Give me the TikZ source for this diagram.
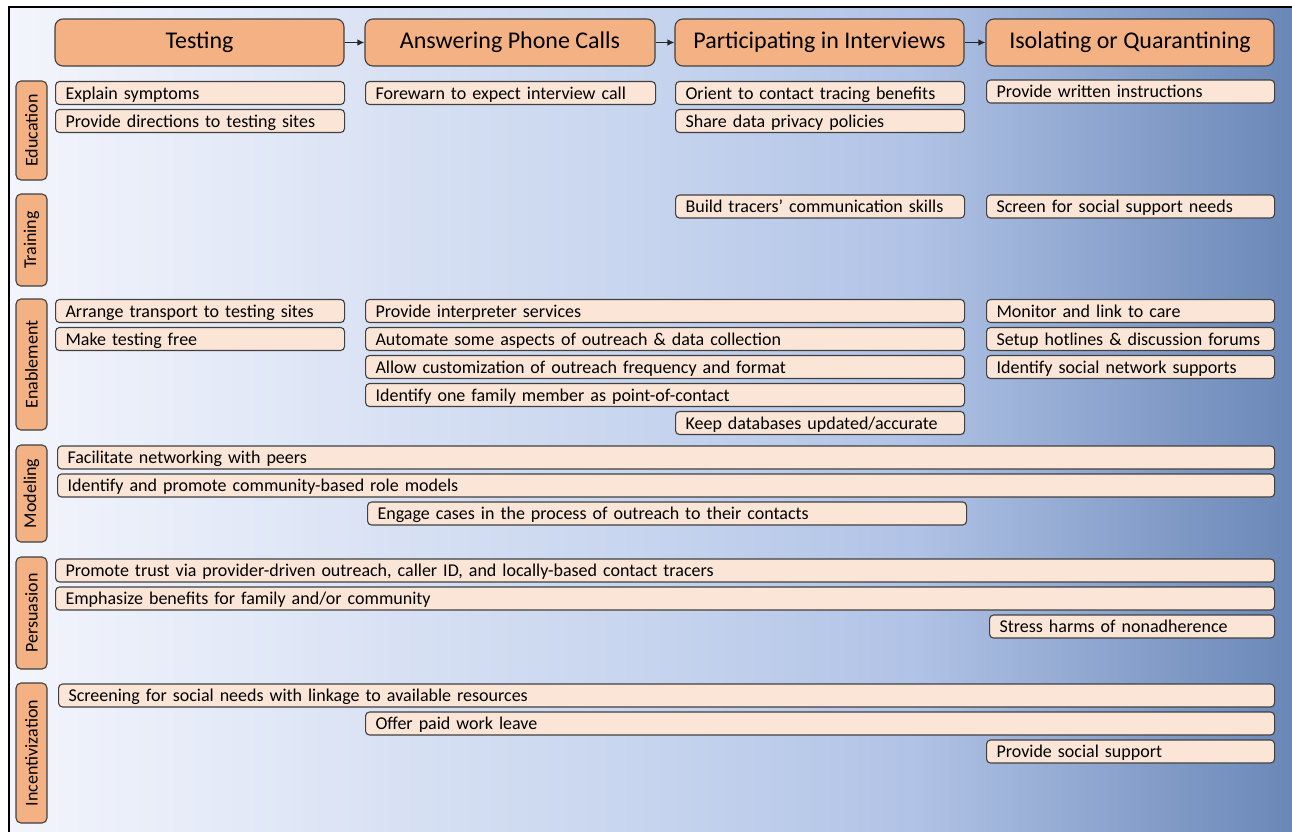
\documentclass[tikz,border=0pt]{standalone}
\usepackage{fontspec}
\setmainfont{Carlito}
\usetikzlibrary{positioning}
\usetikzlibrary{arrows.meta}
\pgfdeclarelayer{edgelayer}
\pgfdeclarelayer{nodelayer}
\pgfsetlayers{edgelayer,nodelayer,main}
\definecolor{stagefill}{HTML}{F4B183}
\definecolor{itemfill}{HTML}{FBE5D6}
\definecolor{bgleft}{HTML}{F3F5FC}
\definecolor{bgmid}{HTML}{C6D4EE}
\definecolor{bglight}{HTML}{B1C3E6}
\definecolor{bgright}{HTML}{6886B6}
\pgfdeclarehorizontalshading{panel}{100bp}{color(0bp)=(bgleft); color(25bp)=(bgleft); color(50bp)=(bgmid); color(60bp)=(bglight); color(75bp)=(bgright); color(100bp)=(bgright)}
\tikzstyle{stage}=[draw=black!75, line width=1.1pt, fill=stagefill, rounded corners=8pt, minimum width=289pt, minimum height=47pt, inner sep=0pt, font=\fontsize{24}{28}\selectfont]
\tikzstyle{lever}=[draw=black!75, line width=1.1pt, fill=stagefill, rounded corners=5pt, minimum height=31pt, inner sep=0pt, rotate=90, font=\fontsize{18}{20}\selectfont]
\tikzstyle{item}=[draw=black!75, line width=1.1pt, fill=itemfill, rounded corners=4pt, anchor=west, minimum height=23pt, inner xsep=10pt, inner ysep=0pt, text height=14pt, text depth=2pt, align=left, font=\fontsize{18}{20}\selectfont]
\tikzstyle{flow}=[-{Latex[length=7pt,width=6.5pt]}, draw=black!85, line width=1.1pt]

\begin{document}
\begin{tikzpicture}[x=1pt, y=-1pt]
	\useasboundingbox (0, 0) rectangle (1292, 831);
	\begin{pgfonlayer}{nodelayer}
		% stages of contact tracing
		\node [style=stage] (0) at (199.5, 42.5) {Testing};
		\node [style=stage, minimum width=290pt] (1) at (510, 42.5) {Answering Phone Calls};
		\node [style=stage] (2) at (819.5, 42.5) {Participating in Interviews};
		\node [style=stage, minimum width=288pt] (3) at (1130, 42.5) {Isolating or Quarantining};
		% intervention functions
		\node [style=lever, minimum width=99pt] (4) at (31.5, 130.5) {Education};
		\node [style=lever, minimum width=92pt] (5) at (31.5, 240) {Training};
		\node [style=lever, minimum width=131pt] (6) at (31.5, 364.5) {Enablement};
		\node [style=lever, minimum width=97pt] (7) at (31.5, 493.5) {Modeling};
		\node [style=lever, minimum width=112pt] (8) at (31.5, 613) {Persuasion};
		\node [style=lever, minimum width=140pt] (9) at (31.5, 753) {Incentivization};
		% education
		\node [style=item, text width=269pt] (10) at (55, 93) {Explain symptoms};
		\node [style=item, text width=269pt] (11) at (55, 121) {Provide directions to testing sites};
		\node [style=item, text width=270pt] (12) at (365, 93) {Forewarn to expect interview call};
		\node [style=item, text width=269pt] (13) at (675, 93) {Orient to contact tracing benefits};
		\node [style=item, text width=269pt] (14) at (675, 121) {Share data privacy policies};
		\node [style=item, text width=268pt] (15) at (986, 91.5) {Provide written instructions};
		% training
		\node [style=item, text width=269pt] (16) at (675, 206.5) {Build tracers’ communication skills};
		\node [style=item, text width=268pt] (17) at (986, 206.5) {Screen for social support needs};
		% enablement
		\node [style=item, text width=269pt] (18) at (55, 311) {Arrange transport to testing sites};
		\node [style=item, text width=269pt] (19) at (55, 339) {Make testing free};
		\node [style=item, text width=579pt] (20) at (365, 311) {Provide interpreter services};
		\node [style=item, text width=579pt] (21) at (365, 339) {Automate some aspects of outreach \& data collection};
		\node [style=item, text width=579pt] (22) at (365, 367) {Allow customization of outreach frequency and format};
		\node [style=item, text width=579pt] (23) at (365, 395) {Identify one family member as point-of-contact};
		\node [style=item, text width=269pt] (24) at (675, 423) {Keep databases updated/accurate};
		\node [style=item, text width=268pt] (25) at (986, 311) {Monitor and link to care};
		\node [style=item, text width=268pt] (26) at (986, 339) {Setup hotlines \& discussion forums};
		\node [style=item, text width=268pt] (27) at (986, 367) {Identify social network supports};
		% modeling
		\node [style=item, text width=1197pt] (28) at (57, 457.5) {Facilitate networking with peers};
		\node [style=item, text width=1197pt] (29) at (57, 485.5) {Identify and promote community-based role models};
		\node [style=item, text width=579pt] (30) at (367, 513.5) {Engage cases in the process of outreach to their contacts};
		% persuasion
		\node [style=item, text width=1199pt] (31) at (55, 570.5) {Promote trust via provider-driven outreach, caller ID, and locally-based contact tracers};
		\node [style=item, text width=1199pt] (32) at (55, 598.5) {Emphasize benefits for family and/or community};
		\node [style=item, text width=265pt] (33) at (989, 626.5) {Stress harms of nonadherence};
		% incentivization
		\node [style=item, text width=1196pt] (34) at (58, 695.5) {Screening for social needs with linkage to available resources};
		\node [style=item, text width=889pt] (35) at (365, 723.5) {Offer paid work leave};
		\node [style=item, text width=268pt] (36) at (986, 751.5) {Provide social support};
	\end{pgfonlayer}
	\begin{pgfonlayer}{edgelayer}
		\draw [draw=black, line width=1.2pt, shading=panel] (9, 7) rectangle (1300, 840);
		\draw [style=flow] (0) to (1);
		\draw [style=flow] (1) to (2);
		\draw [style=flow] (2) to (3);
	\end{pgfonlayer}
\end{tikzpicture}
\end{document}
